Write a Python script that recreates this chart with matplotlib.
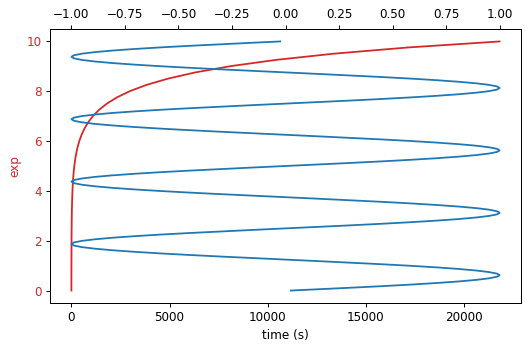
import matplotlib
matplotlib.use("Agg")
import matplotlib.pyplot as plt

# exponential growth, sampled every 0.25 s
t_exp = [0.01, 0.25, 0.5, 0.75, 1.0, 1.25, 1.5, 1.75, 2.0, 2.25, 2.5,
         2.75, 3.0, 3.25, 3.5, 3.75, 4.0, 4.25, 4.5, 4.75, 5.0,
         5.25, 5.5, 5.75, 6.0, 6.25, 6.5, 6.75, 7.0, 7.25, 7.5,
         7.75, 8.0, 8.25, 8.5, 8.75, 9.0, 9.25, 9.5, 9.75, 9.99]
exp_vals = [1.01, 1.284, 1.649, 2.117, 2.718, 3.490, 4.482, 5.755, 7.389, 9.488, 12.18,
            15.64, 20.09, 25.79, 33.12, 42.52, 54.60, 70.11, 90.02, 115.6, 148.4,
            190.6, 244.7, 314.2, 403.4, 518.0, 665.1, 854.1, 1096.6, 1408.1, 1808.0,
            2321.6, 2981.0, 3827.6, 4914.8, 6310.7, 8103.1, 10404.6, 13359.7, 17154.2, 21807.2]

# oscillation, sampled every 0.0625 s
t_sin = [0.01,
         0.0625, 0.125, 0.1875, 0.25, 0.3125, 0.375, 0.4375, 0.5,
         0.5625, 0.625, 0.6875, 0.75, 0.8125, 0.875, 0.9375, 1.0,
         1.0625, 1.125, 1.1875, 1.25, 1.3125, 1.375, 1.4375, 1.5,
         1.5625, 1.625, 1.6875, 1.75, 1.8125, 1.875, 1.9375, 2.0,
         2.0625, 2.125, 2.1875, 2.25, 2.3125, 2.375, 2.4375, 2.5,
         2.5625, 2.625, 2.6875, 2.75, 2.8125, 2.875, 2.9375, 3.0,
         3.0625, 3.125, 3.1875, 3.25, 3.3125, 3.375, 3.4375, 3.5,
         3.5625, 3.625, 3.6875, 3.75, 3.8125, 3.875, 3.9375, 4.0,
         4.0625, 4.125, 4.1875, 4.25, 4.3125, 4.375, 4.4375, 4.5,
         4.5625, 4.625, 4.6875, 4.75, 4.8125, 4.875, 4.9375, 5.0,
         5.0625, 5.125, 5.1875, 5.25, 5.3125, 5.375, 5.4375, 5.5,
         5.5625, 5.625, 5.6875, 5.75, 5.8125, 5.875, 5.9375, 6.0,
         6.0625, 6.125, 6.1875, 6.25, 6.3125, 6.375, 6.4375, 6.5,
         6.5625, 6.625, 6.6875, 6.75, 6.8125, 6.875, 6.9375, 7.0,
         7.0625, 7.125, 7.1875, 7.25, 7.3125, 7.375, 7.4375, 7.5,
         7.5625, 7.625, 7.6875, 7.75, 7.8125, 7.875, 7.9375, 8.0,
         8.0625, 8.125, 8.1875, 8.25, 8.3125, 8.375, 8.4375, 8.5,
         8.5625, 8.625, 8.6875, 8.75, 8.8125, 8.875, 8.9375, 9.0,
         9.0625, 9.125, 9.1875, 9.25, 9.3125, 9.375, 9.4375, 9.5,
         9.5625, 9.625, 9.6875, 9.75, 9.8125, 9.875, 9.9375, 9.99]
sin_vals = [0.025,
            .156, .309, .454, .588, .707, .809, .891, .951,
            .988, 1.0, .988, .951, .891, .809, .707, .588,
            .454, .309, .156, 0.0, -.156, -.309, -.454, -.588,
            -.707, -.809, -.891, -.951, -.988, -1.0, -.988, -.951,
            -.891, -.809, -.707, -.588, -.454, -.309, -.156, 0.0,
            .156, .309, .454, .588, .707, .809, .891, .951,
            .988, 1.0, .988, .951, .891, .809, .707, .588,
            .454, .309, .156, 0.0, -.156, -.309, -.454, -.588,
            -.707, -.809, -.891, -.951, -.988, -1.0, -.988, -.951,
            -.891, -.809, -.707, -.588, -.454, -.309, -.156, 0.0,
            .156, .309, .454, .588, .707, .809, .891, .951,
            .988, 1.0, .988, .951, .891, .809, .707, .588,
            .454, .309, .156, 0.0, -.156, -.309, -.454, -.588,
            -.707, -.809, -.891, -.951, -.988, -1.0, -.988, -.951,
            -.891, -.809, -.707, -.588, -.454, -.309, -.156, 0.0,
            .156, .309, .454, .588, .707, .809, .891, .951,
            .988, 1.0, .988, .951, .891, .809, .707, .588,
            .454, .309, .156, 0.0, -.156, -.309, -.454, -.588,
            -.707, -.809, -.891, -.951, -.988, -1.0, -.988, -.951,
            -.891, -.809, -.707, -.588, -.454, -.309, -.156, -0.025]

DPI = 86
fig = plt.figure(figsize=(525 / DPI, 348 / DPI), dpi=DPI)
ax1 = fig.add_axes([50 / 525, 1 - 303 / 348, 471 / 525, 274 / 348])

color = "tab:red"
ax1.set_xlabel("time (s)")
ax1.set_ylabel("exp", color=color)
ax1.plot(exp_vals, t_exp, color=color)
ax1.tick_params(axis="y", labelcolor=color)

ax2 = ax1.twiny()
ax2.plot(sin_vals, t_sin, color="tab:blue")

fig.savefig("out.png", dpi=DPI)
